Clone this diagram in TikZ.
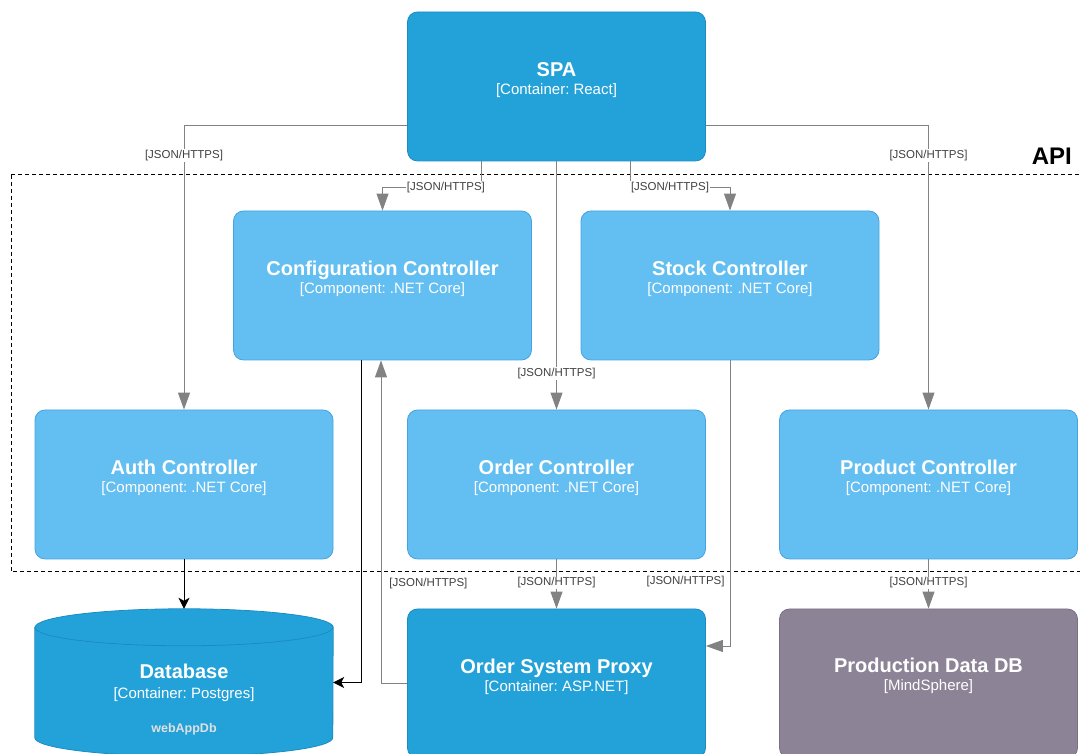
\documentclass[tikz,border=0pt]{standalone}
\usepackage{fontspec}
\setmainfont{Liberation Sans}
\frenchspacing
\usetikzlibrary{arrows.meta}

\definecolor{contfill}{HTML}{23A2D9}
\definecolor{contline}{HTML}{1B8CC2}
\definecolor{compfill}{HTML}{63BEF2}
\definecolor{compline}{HTML}{44A3E2}
\definecolor{extfill}{HTML}{8C8496}
\definecolor{extline}{HTML}{7A7187}
\definecolor{relgray}{HTML}{828282}
\definecolor{lblgray}{HTML}{404040}

\newcommand{\boxtitle}[1]{{\fontsize{20}{18}\selectfont\bfseries #1}}
\newcommand{\boxsub}[1]{#1}

\begin{document}
\begin{tikzpicture}[x=1pt, y=1pt,
  box/.style={rectangle, rounded corners=10pt, minimum width=298pt,
    minimum height=149pt, line width=0.8pt, inner sep=0pt},
  container/.style={box, fill=contfill, draw=contline},
  component/.style={box, fill=compfill, draw=compline},
  external/.style={box, fill=extfill, draw=extline},
  dbarea/.style={rectangle, minimum width=298pt, minimum height=147pt, inner sep=0pt},
  boxtext/.style={anchor=north, align=center, text=white, inner sep=0pt,
    font=\fontsize{15}{18}\selectfont},
  boundary/.style={draw=black, line width=1pt, dash pattern=on 4pt off 3pt},
  rel/.style={draw=relgray, line width=0.9pt, -{Triangle[length=17pt,width=12pt]}},
  dbrel/.style={draw=black, line width=1pt, -{Stealth[length=11pt,width=11pt,inset=3pt]}},
  lbl/.style={fill=white, text=lblgray, inner sep=1pt, font=\fontsize{11.5}{12}\selectfont},
]
  \useasboundingbox (0,0) rectangle (1080,754);

  % API boundary
  \draw[boundary] (11,579) rectangle (1100,182);
  \node[anchor=east, inner sep=0pt, font=\fontsize{24}{24}\selectfont\bfseries] (api) at (1072,598) {API};

  % boxes
  \node[container] (spa) at (556.5,667.5) {};
  \node[component] (config) at (382.5,468.5) {};
  \node[component] (stock) at (730,468.5) {};
  \node[component] (auth) at (184,269.5) {};
  \node[component] (order) at (556.5,269.5) {};
  \node[component] (product) at (928.5,269.5) {};
  \node[container] (proxy) at (556.5,70.5) {};
  \node[external] (prodDb) at (928.5,70.5) {};
  \node[dbarea] (db) at (184,71.5) {};

  % database cylinder
  \filldraw[fill=contfill, draw=contline, line width=0.8pt]
    ([yshift=-18.5pt]db.north west) -- ([yshift=18.5pt]db.south west)
    arc[start angle=180, end angle=360, x radius=149pt, y radius=18.5pt]
    -- ([yshift=-18.5pt]db.north east)
    arc[start angle=0, end angle=180, x radius=149pt, y radius=18.5pt] -- cycle;
  \draw[contline, line width=0.8pt] ([yshift=-18.5pt]db.north west)
    arc[start angle=180, end angle=360, x radius=149pt, y radius=18.5pt];

  % box texts
  \node[boxtext] (spa-txt) at ([yshift=-51pt]spa.north) {\boxtitle{SPA}\\\boxsub{[Container: React]}};
  \node[boxtext] (config-txt) at ([yshift=-50pt]config.north) {\boxtitle{Configuration Controller}\\\boxsub{[Component: .NET Core]}};
  \node[boxtext] (stock-txt) at ([yshift=-50pt]stock.north) {\boxtitle{Stock Controller}\\\boxsub{[Component: .NET Core]}};
  \node[boxtext] (auth-txt) at ([yshift=-50pt]auth.north) {\boxtitle{Auth Controller}\\\boxsub{[Component: .NET Core]}};
  \node[boxtext] (order-txt) at ([yshift=-50pt]order.north) {\boxtitle{Order Controller}\\\boxsub{[Component: .NET Core]}};
  \node[boxtext] (product-txt) at ([yshift=-50pt]product.north) {\boxtitle{Product Controller}\\\boxsub{[Component: .NET Core]}};
  \node[boxtext] (proxy-txt) at ([yshift=-50pt]proxy.north) {\boxtitle{Order System Proxy}\\\boxsub{[Container: ASP.NET]}};
  \node[boxtext] (prodDb-txt) at ([yshift=-49pt]prodDb.north) {\boxtitle{Production Data DB}\\\boxsub{[MindSphere]}};
  \node[boxtext] (db-txt) at ([yshift=-55pt]db.north) {\boxtitle{Database}\\[2pt]\boxsub{[Container: Postgres]}\\[16pt]{\fontsize{12.5}{14}\selectfont\bfseries\color{white!88!black}webAppDb}};

  % SPA -> controllers
  \draw[rel] ([yshift=-38.5pt]spa.west) -| node[lbl, pos=0.554] (l-auth) {[JSON/HTTPS]} (auth.north);
  \draw[rel] ([xshift=-75.5pt]spa.south) -- ++(0,-26) -| node[lbl, pos=0.178] (l-config) {[JSON/HTTPS]} (config.north);
  \draw[rel] (spa.south) -- node[lbl, pos=0.855] (l-order) {[JSON/HTTPS]} (order.north);
  \draw[rel] ([xshift=73.5pt]spa.south) -- ++(0,-26) -| node[lbl, pos=0.2] (l-stock) {[JSON/HTTPS]} (stock.north);
  \draw[rel] ([yshift=-38.5pt]spa.east) -| node[lbl, pos=0.554] (l-product) {[JSON/HTTPS]} (product.north);

  % controllers -> database
  \draw[dbrel] (auth.south) -- (db.north);
  \draw[dbrel] ([xshift=-21.5pt]config.south) |- (db.east);

  % order system proxy
  \draw[rel] (order.south) -- node[lbl, pos=0.48] (l-proxy) {[JSON/HTTPS]} (proxy.north);
  \draw[rel] (proxy.west) -| node[lbl, pos=0.654, anchor=west, xshift=7pt] (l-back) {[JSON/HTTPS]} ([xshift=-1.5pt]config.south);
  \draw[rel] (stock.south) |- node[lbl, pos=0.388, anchor=east, xshift=-4pt] (l-stockproxy) {[JSON/HTTPS]} ([yshift=37.5pt]proxy.east);

  % production data
  \draw[rel] (product.south) -- node[lbl, pos=0.48] (l-mind) {[JSON/HTTPS]} (prodDb.north);
\end{tikzpicture}
\end{document}
